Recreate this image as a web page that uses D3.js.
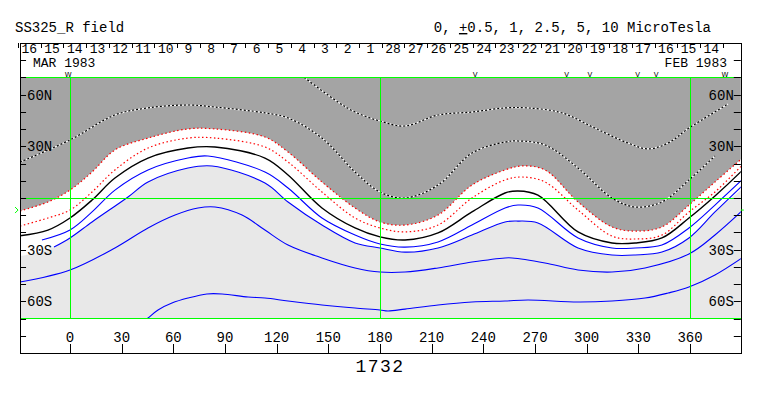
<!DOCTYPE html>
<html>
<head>
<meta charset="utf-8">
<script src="https://cdnjs.cloudflare.com/ajax/libs/d3/7.8.5/d3.min.js"></script>
<style>
  body { margin: 0; background: #fff; }
  text { font-family: "Liberation Mono", "DejaVu Sans Mono", monospace; font-size: 14px; fill: #000; }
</style>
</head>
<body>
<svg id="chart"></svg>
<script>
// contours as [carrington longitude, latitude]
var posHigh = [[136,70],[155.6,55.7],[165.5,49.9],[180,44.7],[194.5,41.8],[213.7,48.2],[233.4,49.9],[252.6,52.3],[265.9,52.3],[285.7,49.4],[304.8,40.6],[324,31.9],[335.6,28.5],[347.2,31.9],[359.4,40.6],[382.1,54.6]];
var posMid = [[-29,20.9],[0,33.7],[26.1,48.2],[45.3,52.3],[68.5,54],[84.2,52.8],[113.2,49.4],[126.6,46.5],[146.3,34.8],[165.5,15.1],[180,3.5],[194.5,0],[213.7,7.5],[233.4,26.1],[252.6,32.5],[260.1,33.1],[275.8,30.8],[295,17.4],[314.7,0],[328.1,-5.2],[343.7,-2.3],[359.4,10.5],[374.5,24.4]];
var posOne = [[-29,-7.5],[-12.8,-2.3],[0,4.6],[12.8,15.1],[26.1,27.9],[45.3,34.8],[68.5,40.1],[84.2,40.1],[113.2,35.4],[126.6,26.7],[146.3,9.3],[165.5,-5.8],[180,-13.9],[194.5,-15.7],[213.7,-9.9],[233.4,7.5],[252.6,16.3],[262.5,18.6],[275.8,16.3],[295,-2.3],[314.7,-16.8],[328.1,-19.2],[343.7,-16.8],[359.4,-4.1],[374.5,9.3],[390.2,23]];
var posHalf = [[-29,-16.3],[-12.8,-11.6],[0,-7],[12.8,3.5],[26.1,16.3],[45.3,29],[68.5,34.8],[84.2,34.8],[113.2,29.6],[126.6,20.9],[146.3,3.5],[165.5,-11.6],[180,-17.4],[194.5,-19.7],[213.7,-15.7],[233.4,0],[252.6,10.5],[262.5,12.2],[275.8,9.3],[295,-7],[314.7,-22.1],[328.1,-23.8],[343.7,-21.5],[359.4,-8.1],[374.5,3.5],[390.2,19]];
var neutral = [[-29,-21.9],[-12.8,-18.6],[0,-11.6],[12.8,-1.2],[26.1,11.6],[45.3,23.2],[68.5,29],[84.2,29.6],[113.2,23.2],[126.6,13.4],[146.3,-5.8],[165.5,-17.4],[180,-22.6],[194.5,-24.4],[213.7,-20.3],[233.4,-8.1],[252.6,2.9],[260.1,4.1],[271.7,1.7],[295,-19.7],[314.7,-26.1],[328.1,-26.1],[343.7,-23.2],[359.4,-11.6],[374.5,1.2],[390.2,15.9]];
var negHalf = [[-16.3,-24.4],[0,-18.6],[12.8,-8.1],[26.1,4.6],[45.3,16.3],[68.5,23.2],[80.1,24.4],[113.2,15.1],[126.6,5.8],[146.3,-11.6],[165.5,-21.5],[180,-26.7],[194.5,-28.5],[213.7,-25.5],[233.4,-15.7],[252.6,-5.8],[260.1,-4.1],[271.7,-5.8],[295,-23.2],[314.7,-29],[328.1,-29],[343.7,-27.3],[359.4,-17.4],[374.5,-4.1],[390.2,10.5]];
var negOne = [[-9.3,-28.5],[0,-23.2],[12.8,-13.9],[33.7,0.6],[45.3,9.3],[68.5,17.4],[82.5,18.6],[113.2,8.7],[126.6,-2.3],[146.3,-15.7],[165.5,-26.1],[180,-29],[194.5,-31.4],[213.7,-29],[233.4,-21.5],[252.6,-13.9],[260.1,-13.4],[271.7,-14.5],[295,-29],[314.7,-33.1],[328.1,-33.1],[343.7,-31.4],[359.4,-23.2],[374.5,-8.1],[390.2,7]];
var negMid = [[-29,-48.8],[0,-41.8],[26.1,-29],[45.3,-17.4],[61,-9.9],[74.3,-5.8],[84.2,-5.2],[99.9,-9.9],[113.2,-18.6],[126.6,-27.3],[146.3,-34.8],[165.5,-40.6],[180,-43],[194.5,-43],[213.7,-40.6],[233.4,-37.2],[252.6,-34.8],[256.7,-34.8],[275.8,-37.7],[295,-41.8],[314.7,-43],[333.9,-40.6],[359.4,-32.5],[374.5,-21.5],[390.2,-7.5]];
var negHigh = [[42.4,-72],[45.3,-69.7],[51.1,-65],[59.2,-61],[68.5,-58.1],[79.5,-55.7],[88.3,-55.7],[103.4,-57.5],[113.2,-58.1],[126.6,-59.8],[146.3,-62.1],[165.5,-63.9],[180,-65],[184.6,-65.6],[194.5,-64.5],[213.7,-62.1],[233.4,-60.4],[252.6,-59.8],[265.9,-59.2],[295,-60.4],[314.7,-59.8],[333.9,-58.1],[347.2,-55.2],[359.4,-51.7],[374.5,-44.7],[390.2,-34.8]];
// edge of the light (negative) shading
var negShade = [[-29,-33.7],[-18,-31.5],[-9.3,-28.5],[0,-23.2],[12.8,-13.9],[33.7,0.6],[45.3,9.3],[68.5,17.4],[82.5,18.6],[113.2,8.7],[126.6,-2.3],[146.3,-15.7],[165.5,-26.1],[180,-29],[194.5,-31.4],[213.7,-29],[233.4,-21.5],[252.6,-13.9],[260.1,-13.4],[271.7,-14.5],[295,-29],[314.7,-33.1],[328.1,-33.1],[343.7,-31.4],[359.4,-23.2],[374.5,-8.1],[390.2,5]];

var dayLabels = ["16","15","14","13","12","11","10","9","8","7","6","5","4","3","2","1",
                 "28","27","26","25","24","23","22","21","20","19","18","17","16","15","14"];
var mar1Lon = 181;      // longitude at start of Mar 1
var degPerDay = 13.2;
var markerLon = [-1, 235.2, 288.4, 301.9, 329.6, 340.3, 380.3];
var markerSym = ["W", "V", "V", "V", "V", "V", "W"];
var lonTicks = [0, 30, 60, 90, 120, 150, 180, 210, 240, 270, 300, 330, 360];
var latTicks = [-80, -70, -60, -50, -40, -30, -20, -10, 0, 10, 20, 30, 40, 50, 60, 70, 80];
var latLabels = [60, 30, -30, -60];
var gridLon = [0, 180, 360];
var gridLat = [70, 0, -70];
var subEarthLat = -7;

var w = 763, h = 396;
var lonMin = -29, lonMax = 389.5;

var x = d3.scaleLinear().domain([0, 360]).range([70, 690]);
var y = d3.scaleLinear().domain([-90, 90]).range([353, 43]);

var svg = d3.select("#chart").attr("width", w).attr("height", h);

var x0 = x(lonMin), x1 = x(lonMax);

svg.append("clipPath").attr("id", "plot")
  .append("rect")
  .attr("x", x0).attr("y", y(70))
  .attr("width", x1 - x0).attr("height", y(-70) - y(70));

var plot = svg.append("g").attr("clip-path", "url(#plot)");

var curve = d3.curveCatmullRom.alpha(0.5);
var line = d3.line().x(function(d) { return x(d[0]); }).y(function(d) { return y(d[1]); }).curve(curve);

// shading
plot.append("path").datum(posOne)
  .attr("d", d3.area().x(function(d) { return x(d[0]); }).y0(y(90)).y1(function(d) { return y(d[1]); }).curve(curve))
  .attr("fill", "#a4a4a4");
plot.append("path").datum(negShade)
  .attr("d", d3.area().x(function(d) { return x(d[0]); }).y0(y(-90)).y1(function(d) { return y(d[1]); }).curve(curve))
  .attr("fill", "#e8e8e8");

// green reference lines
gridLat.forEach(function(la) {
  svg.append("line").attr("x1", x0).attr("x2", x1).attr("y1", y(la)).attr("y2", y(la))
    .attr("stroke", "#00ff00").attr("shape-rendering", "crispEdges");
});
gridLon.forEach(function(lo) {
  svg.append("line").attr("x1", x(lo)).attr("x2", x(lo)).attr("y1", y(70)).attr("y2", y(-70))
    .attr("stroke", "#00ff00").attr("shape-rendering", "crispEdges");
});

// contours
[posHigh, posMid].forEach(function(c) {
  plot.append("path").datum(c).attr("d", line).attr("fill", "none").attr("stroke", "#fff").attr("stroke-width", 1.2);
  plot.append("path").datum(c).attr("d", line).attr("fill", "none").attr("stroke", "#000").attr("stroke-width", 1.2).attr("stroke-dasharray", "2,2");
});
[posOne, posHalf].forEach(function(c) {
  plot.append("path").datum(c).attr("d", line).attr("fill", "none").attr("stroke", "#ff0000").attr("stroke-width", 1.2).attr("stroke-dasharray", "1.5,2.5");
});
plot.append("path").datum(neutral).attr("d", line).attr("fill", "none").attr("stroke", "#000").attr("stroke-width", 1.4);
[negHalf, negOne, negMid, negHigh].forEach(function(c) {
  plot.append("path").datum(c).attr("d", line).attr("fill", "none").attr("stroke", "#0000ff").attr("stroke-width", 1.1);
});

// frame
svg.append("rect").attr("x", Math.round(x0) + 0.5).attr("y", Math.round(y(90)) + 0.5)
  .attr("width", Math.round(x1 - x0)).attr("height", Math.round(y(-90) - y(90)))
  .attr("fill", "none").attr("stroke", "#000");

// lat ticks both sides
latTicks.forEach(function(la) {
  var yy = Math.round(y(la)) + 0.5;
  svg.append("line").attr("x1", x0).attr("x2", x0 + 6).attr("y1", yy).attr("y2", yy).attr("stroke", "#000");
  svg.append("line").attr("x1", x1 - 7).attr("x2", x1).attr("y1", yy).attr("y2", yy).attr("stroke", "#000");
});
latLabels.forEach(function(la) {
  var t = Math.abs(la) + (la > 0 ? "N" : "S");
  svg.append("text").attr("x", x0 + 7).attr("y", y(la)).attr("dy", "0.35em").text(t);
  svg.append("text").attr("x", x1 - 7).attr("y", y(la)).attr("dy", "0.35em").attr("text-anchor", "end").text(t);
});

// longitude axis
lonTicks.forEach(function(lo) {
  var xx = Math.round(x(lo)) + 0.5;
  svg.append("line").attr("x1", xx).attr("x2", xx).attr("y1", y(-90)).attr("y2", y(-90) - 9).attr("stroke", "#000");
  svg.append("text").attr("x", x(lo)).attr("y", 342).attr("text-anchor", "middle").text(lo);
});
svg.append("text").attr("x", x(180)).attr("y", 372).attr("text-anchor", "middle")
  .style("font-size", "18px").style("letter-spacing", "1.5px").text("1732");

// day row
var small = "13px";
dayLabels.forEach(function(d, i) {
  var lo = mar1Lon + (i - 16) * degPerDay;
  var xx = Math.round(x(lo)) + 0.5;
  svg.append("line").attr("x1", xx).attr("x2", xx).attr("y1", y(90)).attr("y2", y(90) + 5).attr("stroke", "#000");
  svg.append("text").attr("x", x(lo + degPerDay / 2)).attr("y", 53).attr("text-anchor", "middle")
    .style("font-size", small).text(d);
});
var lastTick = Math.round(x(mar1Lon + 15 * degPerDay)) + 0.5;
svg.append("line").attr("x1", lastTick).attr("x2", lastTick).attr("y1", y(90)).attr("y2", y(90) + 5).attr("stroke", "#000");

svg.append("text").attr("x", 33).attr("y", 67).style("font-size", small).text("MAR 1983");
svg.append("text").attr("x", 727).attr("y", 67).attr("text-anchor", "end").style("font-size", small).text("FEB 1983");

markerLon.forEach(function(lo, i) {
  svg.append("text").attr("x", x(lo)).attr("y", 77).attr("text-anchor", "middle")
    .style("font-family", "DejaVu Sans").style("font-size", "7px").text(markerSym[i]);
});

// sub-earth latitude marks
svg.append("path")
  .attr("d", "M" + (x0 - 5) + "," + (y(subEarthLat) - 3) + "L" + (x0 - 2) + "," + y(subEarthLat) + "L" + (x0 - 5) + "," + (y(subEarthLat) + 3))
  .attr("fill", "none").attr("stroke", "#00ff00");
svg.append("line").attr("x1", x1).attr("x2", x1 + 3).attr("y1", y(subEarthLat)).attr("y2", y(subEarthLat)).attr("stroke", "#00ff00");

// titles
svg.append("text").attr("x", 15).attr("y", 32).text("SS325_R field");
var units = svg.append("text").attr("x", 711).attr("y", 32).attr("text-anchor", "end");
units.append("tspan").text("0, ");
units.append("tspan").style("text-decoration", "underline").text("+");
units.append("tspan").text("0.5, 1, 2.5, 5, 10 MicroTesla");
</script>
</body>
</html>
